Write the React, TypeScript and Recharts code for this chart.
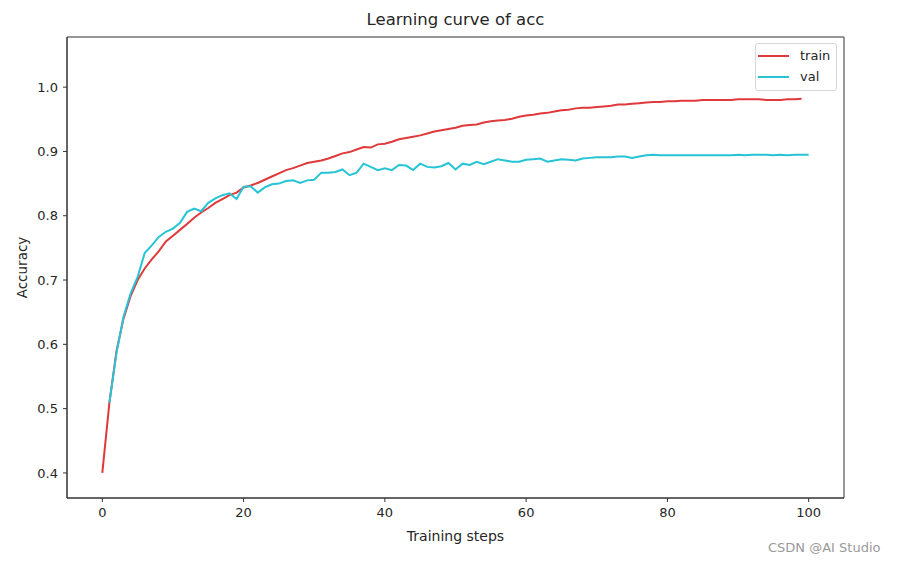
import { LineChart, Line, XAxis, YAxis, ReferenceArea } from 'recharts'

// accuracy per training step
const trainAcc = [
  0.400, 0.509, 0.589, 0.640, 0.675, 0.700, 0.718, 0.732, 0.745, 0.760,
  0.769, 0.778, 0.787, 0.797, 0.805, 0.812, 0.820, 0.826, 0.832, 0.836,
  0.844, 0.847, 0.851, 0.856, 0.861, 0.866, 0.871, 0.874, 0.878, 0.882,
  0.884, 0.886, 0.889, 0.893, 0.897, 0.899, 0.903, 0.907, 0.906, 0.911,
  0.912, 0.915, 0.919, 0.921, 0.923, 0.925, 0.928, 0.931, 0.933, 0.935,
  0.937, 0.940, 0.941, 0.942, 0.945, 0.947, 0.948, 0.949, 0.951, 0.954,
  0.956, 0.957, 0.959, 0.960, 0.962, 0.964, 0.965, 0.967, 0.968, 0.968,
  0.969, 0.970, 0.971, 0.973, 0.973, 0.974, 0.975, 0.976, 0.977, 0.977,
  0.978, 0.978, 0.979, 0.979, 0.979, 0.980, 0.980, 0.980, 0.980, 0.980,
  0.981, 0.981, 0.981, 0.981, 0.980, 0.980, 0.980, 0.981, 0.981, 0.982,
]

// validation starts at step 1
const valAcc = [
  0.509, 0.586, 0.643, 0.679, 0.705, 0.742, 0.754, 0.767, 0.775, 0.780,
  0.789, 0.806, 0.811, 0.807, 0.820, 0.827, 0.832, 0.835, 0.826, 0.845,
  0.846, 0.836, 0.844, 0.849, 0.850, 0.854, 0.855, 0.851, 0.855, 0.856,
  0.867, 0.867, 0.868, 0.872, 0.863, 0.867, 0.881, 0.876, 0.871, 0.874,
  0.871, 0.879, 0.878, 0.871, 0.881, 0.876, 0.875, 0.877, 0.882, 0.872,
  0.881, 0.879, 0.884, 0.880, 0.884, 0.888, 0.886, 0.884, 0.884, 0.887,
  0.888, 0.889, 0.884, 0.886, 0.888, 0.887, 0.886, 0.889, 0.890, 0.891,
  0.891, 0.891, 0.892, 0.892, 0.890, 0.892, 0.894, 0.895, 0.894, 0.894,
  0.894, 0.894, 0.894, 0.894, 0.894, 0.894, 0.894, 0.894, 0.894, 0.895,
  0.894, 0.895, 0.895, 0.895, 0.894, 0.895, 0.894, 0.895, 0.895, 0.895,
]

const xTicks = [0, 20, 40, 60, 80, 100]
const yTicks = [0.4, 0.5, 0.6, 0.7, 0.8, 0.9, 1.0]

const series = [
  { key: 'train', color: '#e0393b' },
  { key: 'val', color: '#27c4d6' },
]

const data = Array.from({ length: 101 }, (_, i) => ({
  step: i,
  train: i < trainAcc.length ? trainAcc[i] : null,
  val: i >= 1 ? valAcc[i - 1] : null,
}))

const font = 'DejaVu Sans, sans-serif'
const tickStyle = { fontSize: 13, fill: '#262626', fontFamily: font }

function LegendBox() {
  return (
    <div
      style={{
        position: 'absolute',
        top: 43,
        left: 755,
        width: 82,
        height: 48,
        border: '1px solid #d6d6d6',
        borderRadius: 3,
        background: 'rgba(255,255,255,0.8)',
        boxSizing: 'border-box',
        fontFamily: font,
        fontSize: 13,
        color: '#262626',
        paddingTop: 1,
      }}
    >
      {series.map((s) => (
        <div key={s.key} style={{ display: 'flex', alignItems: 'center', height: 21 }}>
          <div style={{ width: 31, height: 2, background: s.color, marginLeft: 2, marginRight: 11 }} />
          <span>{s.key}</span>
        </div>
      ))}
    </div>
  )
}

export default function App() {
  return (
    <div style={{ position: 'absolute', left: 0, top: 0, width: 897, height: 565, background: '#fff' }}>
      <div
        style={{
          position: 'absolute',
          top: 10,
          left: 67,
          width: 777,
          textAlign: 'center',
          fontFamily: font,
          fontSize: 16.5,
          color: '#262626',
        }}
      >
        Learning curve of acc
      </div>
      <LineChart
        width={897}
        height={565}
        data={data}
        margin={{ top: 37, right: 53, bottom: 0, left: 0 }}
      >
        <XAxis
          dataKey="step"
          type="number"
          domain={[-5, 105]}
          ticks={xTicks}
          allowDataOverflow
          tick={tickStyle}
          tickSize={4}
          tickMargin={6}
          axisLine={{ stroke: '#333' }}
          tickLine={{ stroke: '#333' }}
          height={67}
          label={{ value: 'Training steps', position: 'insideBottom', offset: 24, style: { ...tickStyle, fontSize: 14 } }}
        />
        <YAxis
          type="number"
          domain={[0.361, 1.078]}
          ticks={yTicks}
          allowDataOverflow
          tickFormatter={(v: number) => v.toFixed(1)}
          tick={tickStyle}
          tickSize={4}
          tickMargin={5}
          axisLine={{ stroke: '#333' }}
          tickLine={{ stroke: '#333' }}
          width={67}
          label={{ value: 'Accuracy', angle: -90, position: 'insideLeft', offset: 22, style: { ...tickStyle, fontSize: 13.5, textAnchor: 'middle' } }}
        />
        <ReferenceArea x1={-5} x2={105} y1={0.361} y2={1.078} fill="none" stroke="#333" strokeWidth={1} ifOverflow="visible" />
        {series.map((s) => (
          <Line
            key={s.key}
            dataKey={s.key}
            name={s.key}
            stroke={s.color}
            strokeWidth={2}
            dot={false}
            type="linear"
            isAnimationActive={false}
            connectNulls={false}
          />
        ))}
      </LineChart>
      <LegendBox />
      <div
        style={{
          position: 'absolute',
          top: 540,
          left: 768,
          fontFamily: font,
          fontSize: 13,
          color: '#9a9a9a',
        }}
      >
        CSDN @AI Studio
      </div>
    </div>
  )
}
